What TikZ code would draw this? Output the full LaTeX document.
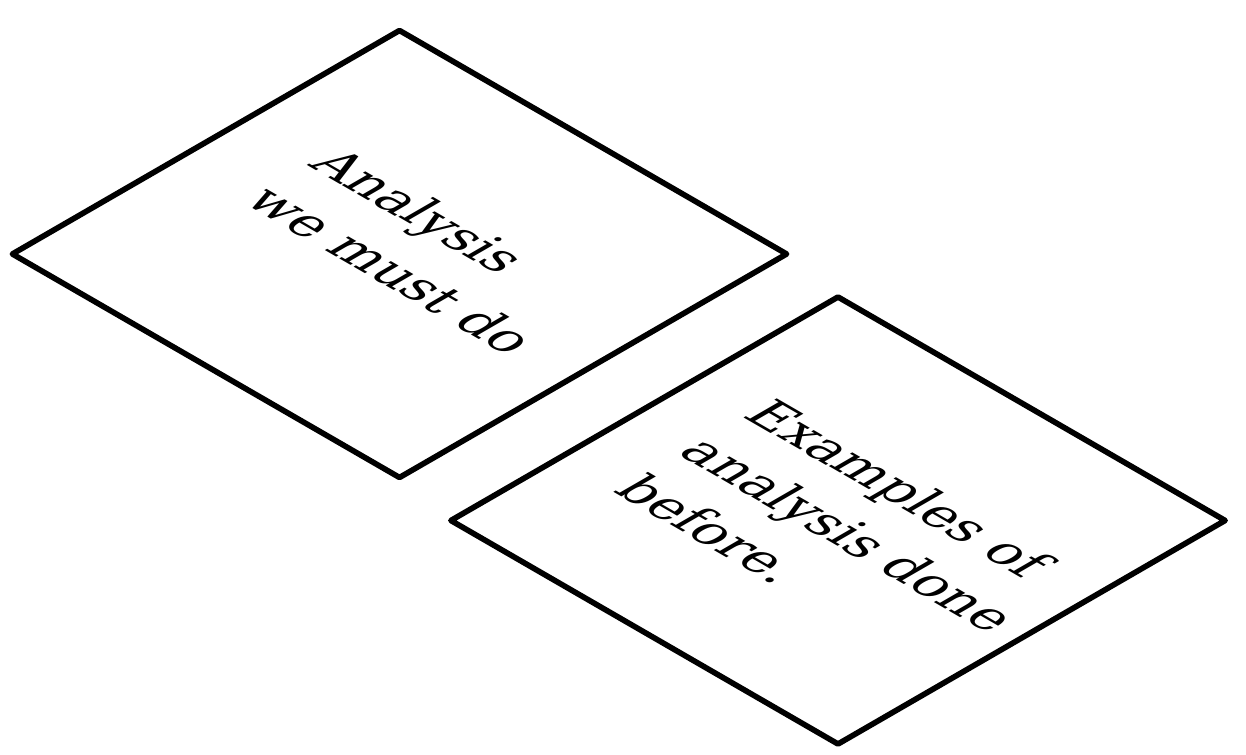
\documentclass[tikz,border=0pt]{standalone}
\usepackage{fontspec}
\setmainfont{DejaVu Serif}

\begin{document}
\begin{tikzpicture}[x=0.02cm, y=0.02cm, line cap=round, line join=round]

\tikzset{
  panel/.style={line width=3.2pt},
  cardtext/.style={inner sep=0pt, transform shape, align=left, anchor=north west,
    font=\fontsize{29.9}{42.7}\selectfont},
  iso/.style={cm={0.866,-0.5,0.866,0.5,(0,0)}}
}

% --- Frame ---
\useasboundingbox (0,0) rectangle (1246,754);

% --- Coordinates ---
\coordinate (P) at (399.5,500);
\coordinate (Q) at (838,233.5);

% --- First card ---
\begin{scope}[shift={(P)}, iso]
  \draw[panel] (-223.5,-223.5) rectangle (223.5,223.5);
  \node[cardtext] (mustdo) at (-142,76) {Analysis\\we must do};
\end{scope}

% --- Second card ---
\begin{scope}[shift={(Q)}, iso]
  \draw[panel] (-223.5,-223.5) rectangle (223.5,223.5);
  \node[cardtext] (donebefore) at (-160,89) {Examples of\\analysis done\\before.};
\end{scope}

\end{tikzpicture}
\end{document}
